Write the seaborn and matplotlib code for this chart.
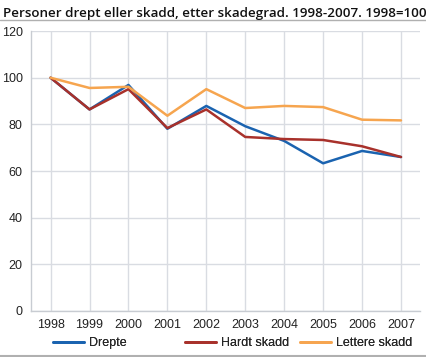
import seaborn as sns
import matplotlib.pyplot as plt
import pandas as pd

years = [1998, 1999, 2000, 2001, 2002, 2003, 2004, 2005, 2006, 2007]
drepte = [100, 86.4, 96.9, 78.1, 87.9, 79.2, 72.9, 63.3, 68.6, 66.0]
hardt_skadd = [100, 86.4, 95.1, 78.4, 86.4, 74.6, 73.7, 73.3, 70.6, 66.0]
lettere_skadd = [100, 95.6, 96.1, 83.7, 95.1, 87.0, 87.9, 87.4, 82.0, 81.7]

series_names = ["Drepte", "Hardt skadd", "Lettere skadd"]
colors = ["#1a63b0", "#a8312b", "#f6a54f"]

df = pd.DataFrame({"år": years, "Drepte": drepte,
                   "Hardt skadd": hardt_skadd, "Lettere skadd": lettere_skadd})
long = df.melt(id_vars="år", var_name="serie", value_name="verdi")

sns.set_theme(style="white")
plt.rcParams["font.family"] = ["Liberation Sans", "DejaVu Sans"]

fig = plt.figure(figsize=(4.26, 3.57), dpi=100)
ax = fig.add_axes([0.073, 0.129, 0.914, 0.784])

sns.lineplot(data=long, x="år", y="verdi", hue="serie", hue_order=series_names,
             palette=colors, linewidth=1.8, ax=ax, legend=False)

ax.set_xlim(1997.5, 2007.5)
ax.set_ylim(0, 120)
ax.set_xticks(years)
ax.set_yticks(range(0, 121, 20))
ax.tick_params(axis="both", length=0, labelsize=9, colors="#222222", pad=6)
ax.set_xlabel("")
ax.set_ylabel("")
ax.grid(True, color="#d9dce2", linewidth=1)
ax.set_axisbelow(True)
for s in ["top", "right"]:
    ax.spines[s].set_visible(False)
for s in ["left", "bottom"]:
    ax.spines[s].set_color("#c8ccd2")
    ax.spines[s].set_linewidth(1)

# legend entries placed one by one, like the original
legend_x = [53, 185, 300]
for name, c, lx in zip(series_names, colors, legend_x):
    h = plt.Line2D([], [], color=c, linewidth=2)
    leg = fig.legend([h], [name], loc="center left", bbox_to_anchor=(lx / 426, 1 - 343 / 357),
                     frameon=False, fontsize=9, handlelength=2.5, handletextpad=0.35,
                     borderpad=0, borderaxespad=0)
    fig.add_artist(leg)

fig.text(0.008, 0.963, "Personer drept eller skadd, etter skadegrad. 1998-2007. 1998=100",
         fontsize=9.6, fontweight="semibold", family=["Open Sans", "DejaVu Sans"],
         va="center", ha="left", color="#111111")
fig.add_artist(plt.Line2D([0, 1], [0.943, 0.943], color="#b0b0b0", linewidth=1))
fig.add_artist(plt.Line2D([0, 1], [0.004, 0.004], color="#b0b0b0", linewidth=1.5))

fig.savefig("out.png", dpi=100)
